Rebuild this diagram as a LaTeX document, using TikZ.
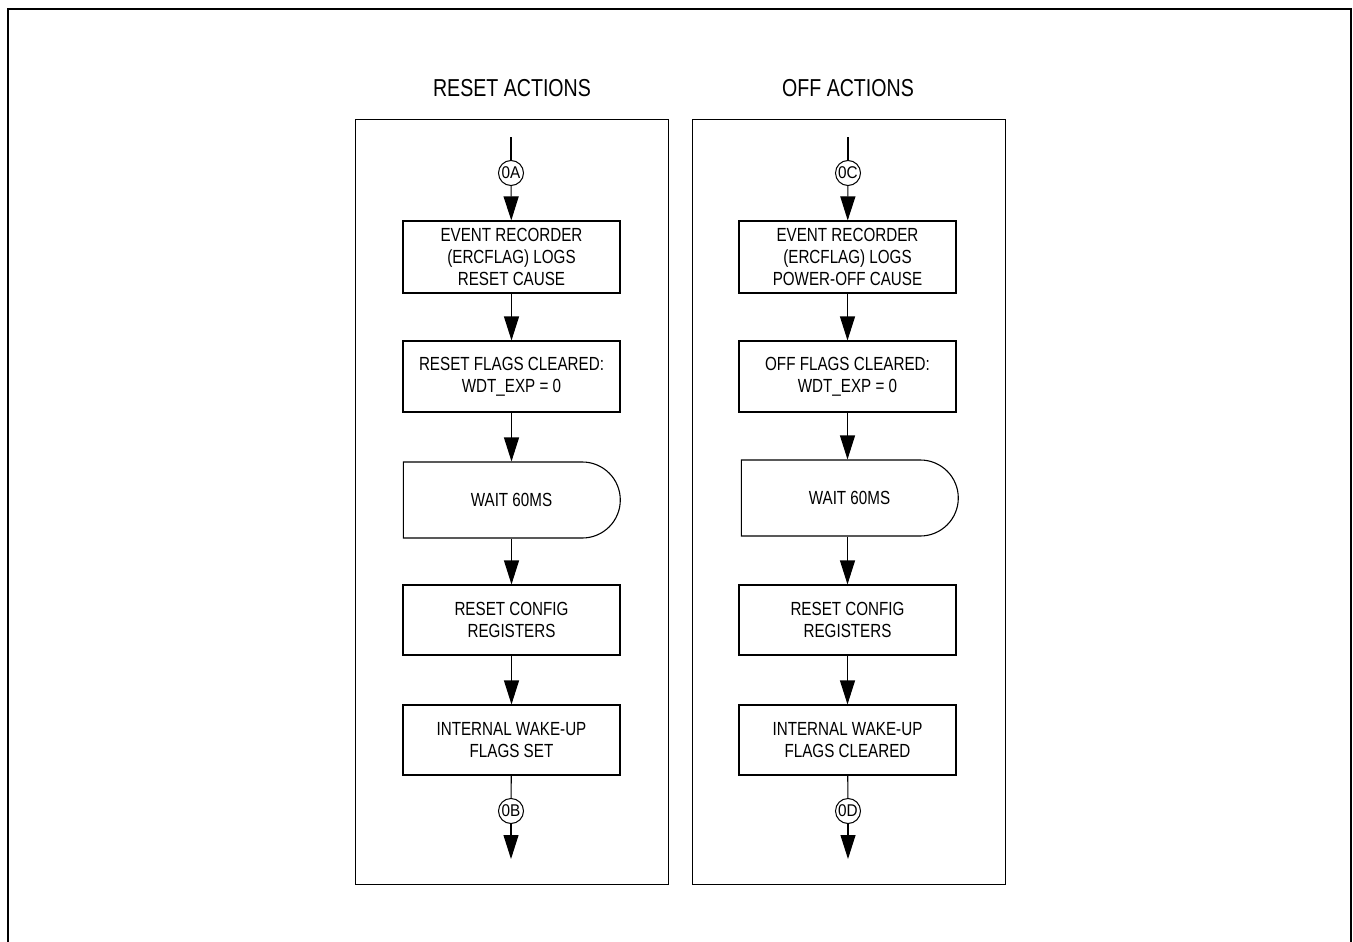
\documentclass[tikz,border=0pt]{standalone}
\usepackage{fontspec}
\setmainfont{Liberation Sans}[FakeStretch=0.8]
\newfontfamily\connfont{Liberation Sans}[FakeStretch=0.9]
\usetikzlibrary{arrows.meta,shapes.misc}
\tikzset{
  x=1pt,y=-1pt,
  flow/.style={line width=1.1pt,-{Triangle[length=24pt,width=15pt]}},
  plain/.style={line width=1.1pt},
  stepbox/.style={draw,line width=1.1pt,minimum width=217pt,align=center,inner sep=0pt,font=\fontsize{19}{22.3}\selectfont},
  waitbox/.style={draw,line width=1.1pt,rounded rectangle,rounded rectangle left arc=none,minimum width=217pt,minimum height=76pt,inner sep=0pt,font=\fontsize{19}{22.3}\selectfont},
  conn/.style={draw,circle,line width=1pt,minimum size=25pt,inner sep=0pt,font=\connfont\fontsize{17}{17}\selectfont},
  panel/.style={draw,line width=1pt,minimum width=313pt,minimum height=765pt,inner sep=0pt},
  title/.style={font=\fontsize{24.5}{24.5}\selectfont}
}
\begin{document}
\begin{tikzpicture}
\useasboundingbox (0,0) rectangle (1353,942);
\fill[white] (0,0) rectangle (1353,942);
\draw[line width=1.2pt] (8,942) -- (8,9) -- (1351,9) -- (1351,942);

% panels
\node[panel] (pL) at (511.5,501.5) {};
\node[panel] (pR) at (848.5,501.5) {};
\node[title] (tL) at (512,88) {RESET ACTIONS};
\node[title] (tR) at (848,88) {OFF ACTIONS};

% left column
\coordinate (sL) at (511,137);
\node[conn] (cA) at (511,173) {0A};
\node[stepbox,minimum height=72pt] (l1) at (511.5,257) {EVENT RECORDER\\(ERCFLAG) LOGS\\RESET CAUSE};
\node[stepbox,minimum height=71pt] (l2) at (511.5,376.5) {RESET FLAGS CLEARED:\\WDT\_EXP = 0};
\node[waitbox] (l3) at (511.5,500) {WAIT 60MS};
\node[stepbox,minimum height=70pt] (l4) at (511.5,620) {RESET CONFIG\\REGISTERS};
\node[stepbox,minimum height=70pt] (l5) at (511.5,740) {INTERNAL WAKE-UP\\FLAGS SET};
\node[conn] (cB) at (511,811) {0B};
\coordinate (eL) at (511,859);

\draw[plain] (sL) -- (cA);
\draw[flow] (cA) -- (l1);
\draw[flow] (l1) -- (l2);
\draw[flow] (l2) -- (l3.north -| l2.south);
\draw[flow] (l3.south -| l2.south) -- (l4);
\draw[flow] (l4) -- (l5);
\draw[plain] (l5) -- (cB);
\draw[flow] (cB) -- (eL);

% right column
\coordinate (sR) at (848,137);
\node[conn] (cC) at (848,173) {0C};
\node[stepbox,minimum height=72pt] (r1) at (847.5,257) {EVENT RECORDER\\(ERCFLAG) LOGS\\POWER-OFF CAUSE};
\node[stepbox,minimum height=71pt] (r2) at (847.5,376.5) {OFF FLAGS CLEARED:\\WDT\_EXP = 0};
\node[waitbox] (r3) at (849.5,498) {WAIT 60MS};
\node[stepbox,minimum height=70pt] (r4) at (847.5,620) {RESET CONFIG\\REGISTERS};
\node[stepbox,minimum height=70pt] (r5) at (847.5,740) {INTERNAL WAKE-UP\\FLAGS CLEARED};
\node[conn] (cD) at (848,811) {0D};
\coordinate (eR) at (848,859);

\draw[plain] (sR) -- (cC);
\draw[flow] (cC) -- (r1);
\draw[flow] (r1) -- (r2);
\draw[flow] (r2) -- (r3.north -| r2.south);
\draw[flow] (r3.south -| r2.south) -- (r4);
\draw[flow] (r4) -- (r5);
\draw[plain] (r5) -- (cD);
\draw[flow] (cD) -- (eR);
\end{tikzpicture}
\end{document}
